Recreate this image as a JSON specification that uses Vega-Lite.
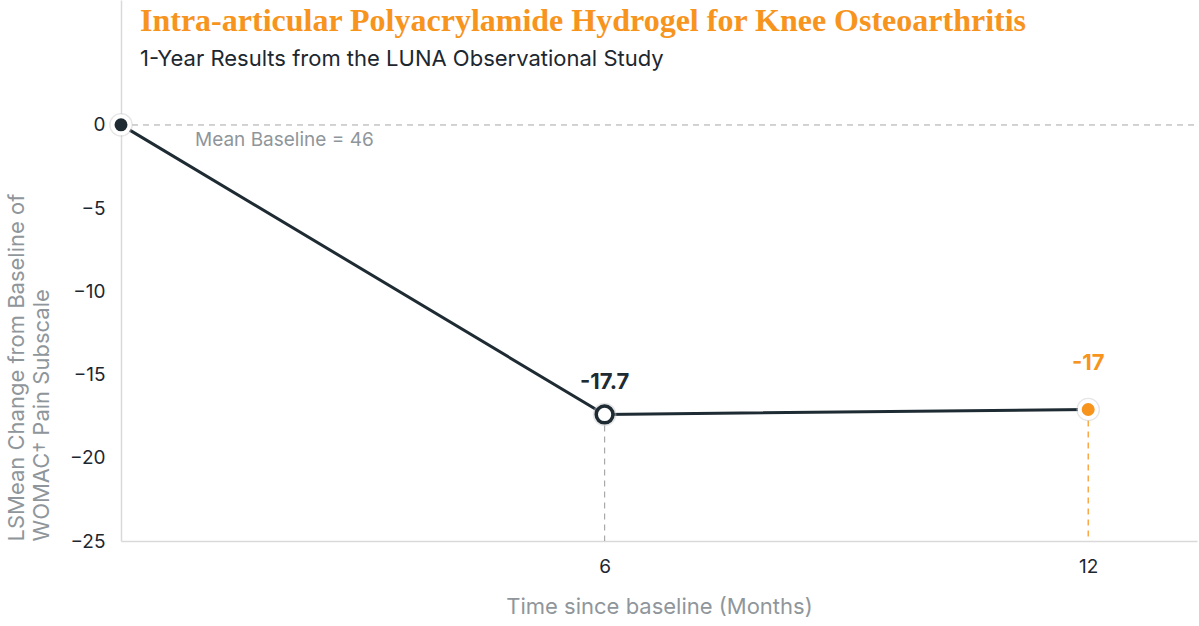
{
  "$schema": "https://vega.github.io/schema/vega-lite/v6.json",
  "width": 1076,
  "height": 541,
  "autosize": {"type": "none"},
  "padding": {"left": 121, "top": 0, "right": 2, "bottom": 85},
  "background": "white",
  "title": {
    "text": "Intra-articular Polyacrylamide Hydrogel for Knee Osteoarthritis",
    "subtitle": "1-Year Results from the LUNA Observational Study",
    "anchor": "start",
    "frame": "group",
    "orient": "top",
    "offset": -72,
    "dx": 19,
    "dy": -1,
    "font": "Liberation Serif",
    "fontSize": 32,
    "fontWeight": "bold",
    "color": "#F7941D",
    "subtitleFont": "Inter",
    "subtitleFontSize": 22,
    "subtitleColor": "#1d2730",
    "subtitlePadding": 11
  },
  "config": {
    "view": {"stroke": null},
    "axis": {
      "grid": false,
      "ticks": false,
      "domainColor": "#d9d9d9",
      "domainWidth": 1.5,
      "labelFont": "Inter",
      "labelColor": "#1d2730",
      "titleFont": "Inter",
      "titleColor": "#8f969b",
      "titleFontWeight": "normal"
    }
  },
  "data": {
    "values": [
      {"month": 0, "value": 0, "label": "0"},
      {"month": 6, "value": -17.4, "label": "-17.7"},
      {"month": 12, "value": -17.1, "label": "-17"}
    ]
  },
  "encoding": {
    "x": {
      "field": "month",
      "type": "quantitative",
      "scale": {"domain": [0, 13.35], "nice": false, "zero": false},
      "axis": {
        "values": [6, 12],
        "title": "Time since baseline (Months)",
        "labelFontSize": 19,
        "labelPadding": 16,
        "titleFontSize": 22,
        "titlePadding": 20
      }
    },
    "y": {
      "field": "value",
      "type": "quantitative",
      "scale": {"domain": [-25, 7.5], "nice": false, "zero": false},
      "axis": {
        "values": [0, -5, -10, -15, -20, -25],
        "format": "d",
        "title": ["LSMean Change from Baseline of", "WOMAC† Pain Subscale"],
        "labelFontSize": 19,
        "labelPadding": 16,
        "titleFontSize": 22,
        "titleLineHeight": 25,
        "titlePadding": 16,
        "titleAnchor": "start"
      }
    }
  },
  "layer": [
    {
      "mark": {"type": "rule", "color": "#cfcfcf", "strokeWidth": 1.2, "strokeDash": [6, 5]},
      "encoding": {
        "x": {"datum": 0},
        "x2": {"datum": 13.35},
        "y": {"datum": 0}
      }
    },
    {
      "transform": [{"filter": "datum.month == 6"}],
      "mark": {"type": "rule", "color": "#a9a9a9", "strokeWidth": 1.2, "strokeDash": [6, 5]},
      "encoding": {"y2": {"datum": -25}}
    },
    {
      "transform": [{"filter": "datum.month == 12"}],
      "mark": {"type": "rule", "color": "#F7941D", "strokeWidth": 1.2, "strokeDash": [6, 5]},
      "encoding": {"y2": {"datum": -25}}
    },
    {
      "mark": {"type": "line", "color": "#1e2b33", "strokeWidth": 3}
    },
    {
      "mark": {"type": "point", "filled": true, "fill": "#c8c8c8", "opacity": 0.45, "size": 560}
    },
    {
      "transform": [{"filter": "datum.month == 0"}],
      "mark": {"type": "point", "filled": true, "fill": "#1e2b33", "stroke": "white", "strokeWidth": 4, "size": 289, "opacity": 1}
    },
    {
      "transform": [{"filter": "datum.month == 6"}],
      "mark": {"type": "point", "filled": true, "fill": "white", "stroke": "#1e2b33", "strokeWidth": 3.5, "size": 280, "opacity": 1}
    },
    {
      "transform": [{"filter": "datum.month == 12"}],
      "mark": {"type": "point", "filled": true, "fill": "#F7941D", "stroke": "white", "strokeWidth": 4, "size": 289, "opacity": 1}
    },
    {
      "transform": [{"filter": "datum.month == 6"}],
      "mark": {"type": "text", "font": "Inter", "fontSize": 22, "fontWeight": "bold", "color": "#1e2b33", "dy": -32},
      "encoding": {"text": {"field": "label"}}
    },
    {
      "transform": [{"filter": "datum.month == 12"}],
      "mark": {"type": "text", "font": "Inter", "fontSize": 22, "fontWeight": "bold", "color": "#F7941D", "dy": -46},
      "encoding": {"text": {"field": "label"}}
    },
    {
      "transform": [{"filter": "datum.month == 0"}],
      "mark": {"type": "text", "font": "Inter", "fontSize": 19, "color": "#8f969b", "align": "left", "dx": 74, "dy": 15},
      "encoding": {"text": {"value": "Mean Baseline = 46"}}
    }
  ]
}
